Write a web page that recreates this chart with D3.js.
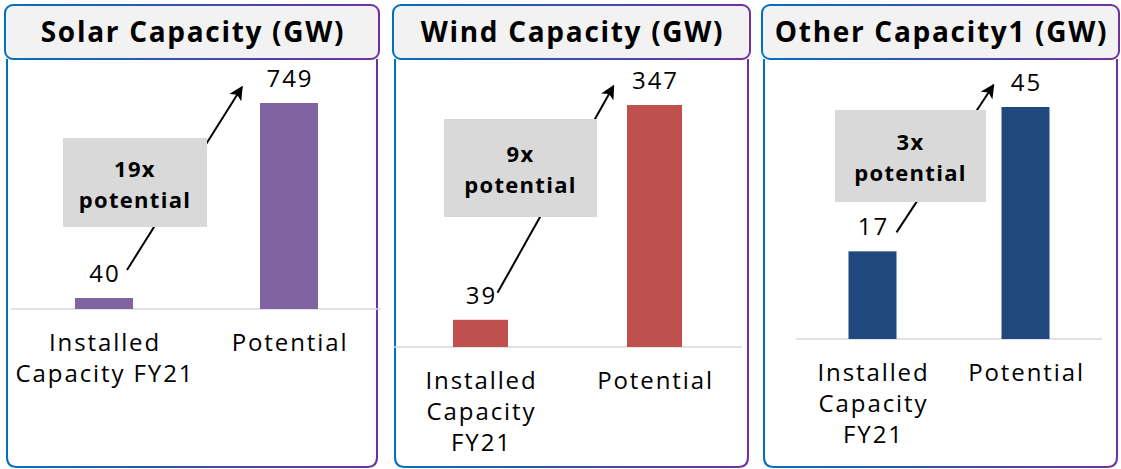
<!DOCTYPE html>
<html lang="en">
<head>
<meta charset="utf-8">
<title>Capacity potential</title>
<script src="https://cdn.jsdelivr.net/npm/d3@7"></script>
<style>
  body { margin: 0; background: #fff; }
  text { font-family: "Open Sans", "DejaVu Sans", sans-serif; fill: #000; }
</style>
</head>
<body>
<script>
// chart data
var titles = ["Solar Capacity (GW)", "Wind Capacity (GW)", "Other Capacity1 (GW)"];
var categories = ["Installed Capacity FY21", "Potential"];
var solarValues = [40, 749];
var windValues = [39, 347];
var otherValues = [17, 45];
var multipliers = ["19x", "9x", "3x"];
var tickLines = [
  [["Installed", "Capacity FY21"], ["Potential"]],
  [["Installed", "Capacity", "FY21"], ["Potential"]],
  [["Installed", "Capacity", "FY21"], ["Potential"]]
];
var colors = ["#8064a2", "#c0504d", "#1f497d"];

var seriesValues = [solarValues, windValues, otherValues];

// where each panel sits on the page
var layout = [
  { x0: 5, x1: 379, base: 309, top: 103, axis: [11, 381], c: [104, 289], bw: 58,
    box: [63, 138, 144, 89], aS: [23, -28], aE: [-47, -16] },
  { x0: 393, x1: 750, base: 347, top: 105, axis: [393, 742], c: [480.5, 654.5], bw: 55,
    box: [444, 119, 153, 98], aS: [17, -27], aE: [-41, -19] },
  { x0: 762, x1: 1119, base: 339, top: 107, axis: [796, 1102], c: [872.5, 1025.5], bw: 48,
    box: [835, 110, 151, 92], aS: [24, -19], aE: [-32, -22] }
];

var w = 1121, h = 469;
var titleTop = 5, titleBottom = 59, bottom = 467;

var svg = d3.select("body").append("svg")
  .attr("width", w)
  .attr("height", h);

var defs = svg.append("defs");
var grad = defs.append("linearGradient").attr("id", "edge");
grad.append("stop").attr("offset", "0%").attr("stop-color", "#0070c0");
grad.append("stop").attr("offset", "100%").attr("stop-color", "#7030a0");

defs.append("marker")
  .attr("id", "arrow")
  .attr("viewBox", "0 0 10 10")
  .attr("refX", 9).attr("refY", 5)
  .attr("markerWidth", 7).attr("markerHeight", 7)
  .attr("markerUnits", "strokeWidth")
  .attr("orient", "auto")
  .append("path")
  .attr("d", "M0,0 L10,5 L0,10 L2.5,5 Z")
  .attr("fill", "#000");

layout.forEach(function(L, i) {
  var g = svg.append("g");
  var vals = seriesValues[i];

  // body frame (open at the top, rounded bottom)
  var bx0 = L.x0 + 2, bx1 = L.x1 - 2, r = 10;
  var p = d3.path();
  p.moveTo(bx0, titleBottom);
  p.lineTo(bx0, bottom - r);
  p.quadraticCurveTo(bx0, bottom, bx0 + r, bottom);
  p.lineTo(bx1 - r, bottom);
  p.quadraticCurveTo(bx1, bottom, bx1, bottom - r);
  p.lineTo(bx1, titleBottom);
  g.append("path")
    .attr("d", p.toString())
    .attr("fill", "#fff")
    .attr("stroke", "url(#edge)")
    .attr("stroke-width", 2);

  // scales
  var step = L.c[1] - L.c[0];
  var x = d3.scaleBand()
    .domain(categories)
    .range([L.c[0] - step / 2, L.c[1] + step / 2])
    .paddingInner(1 - L.bw / step)
    .paddingOuter((1 - L.bw / step) / 2);
  var y = d3.scaleLinear()
    .domain([0, d3.max(vals)])
    .range([L.base, L.top]);

  // baseline
  g.append("line")
    .attr("x1", L.axis[0]).attr("x2", L.axis[1])
    .attr("y1", L.base).attr("y2", L.base)
    .attr("stroke", "#d9d9d9")
    .attr("stroke-width", 1.5);

  // bars
  g.selectAll("rect.bar")
    .data(vals)
    .enter()
    .append("rect")
    .attr("class", "bar")
    .attr("x", function(d, j) { return x(categories[j]); })
    .attr("y", function(d) { return y(d); })
    .attr("width", x.bandwidth())
    .attr("height", function(d) { return L.base - y(d); })
    .attr("fill", colors[i]);

  // value labels
  g.selectAll("text.val")
    .data(vals)
    .enter()
    .append("text")
    .attr("class", "val")
    .attr("x", function(d, j) { return x(categories[j]) + x.bandwidth() / 2 + 1; })
    .attr("y", function(d) { return y(d) - 16; })
    .attr("text-anchor", "middle")
    .attr("font-size", 24)
    .attr("letter-spacing", 2)
    .text(function(d) { return d; });

  // category labels
  tickLines[i].forEach(function(lines, j) {
    var t = g.append("text")
      .attr("text-anchor", "middle")
      .attr("font-size", 24)
      .attr("letter-spacing", 1.9);
    lines.forEach(function(s, k) {
      t.append("tspan")
        .attr("x", x(categories[j]) + x.bandwidth() / 2 + 1)
        .attr("y", L.base + 42 + k * 31)
        .text(s);
    });
  });

  // arrow from installed to potential
  var sx = x(categories[0]) + x.bandwidth() / 2 + L.aS[0];
  var sy = y(vals[0]) + L.aS[1];
  var ex = x(categories[1]) + x.bandwidth() / 2 + L.aE[0];
  var ey = y(vals[1]) + L.aE[1];
  g.append("line")
    .attr("x1", sx).attr("y1", sy)
    .attr("x2", ex).attr("y2", ey)
    .attr("stroke", "#000")
    .attr("stroke-width", 2)
    .attr("marker-end", "url(#arrow)");

  // multiplier box
  var b = L.box;
  g.append("rect")
    .attr("x", b[0]).attr("y", b[1])
    .attr("width", b[2]).attr("height", b[3])
    .attr("fill", "#d9d9d9");
  var cx = b[0] + b[2] / 2, cy = b[1] + b[3] / 2;
  var bt = g.append("text")
    .attr("text-anchor", "middle")
    .attr("font-size", 22)
    .attr("font-weight", "bold")
    .attr("letter-spacing", 1.3);
  bt.append("tspan")
    .attr("x", cx).attr("y", cy - 6)
    .text(multipliers[i]);
  bt.append("tspan")
    .attr("x", cx).attr("y", cy + 25)
    .text("potential");

  // title tab
  g.append("rect")
    .attr("x", L.x0).attr("y", titleTop)
    .attr("width", L.x1 - L.x0).attr("height", titleBottom - titleTop)
    .attr("rx", 8).attr("ry", 8)
    .attr("fill", "#f2f2f2")
    .attr("stroke", "url(#edge)")
    .attr("stroke-width", 2);
  g.append("text")
    .attr("x", (L.x0 + L.x1) / 2 + 1)
    .attr("y", 42)
    .attr("text-anchor", "middle")
    .attr("font-size", 28)
    .attr("font-weight", "bold")
    .attr("letter-spacing", 1.7)
    .text(titles[i]);
});
</script>
</body>
</html>
